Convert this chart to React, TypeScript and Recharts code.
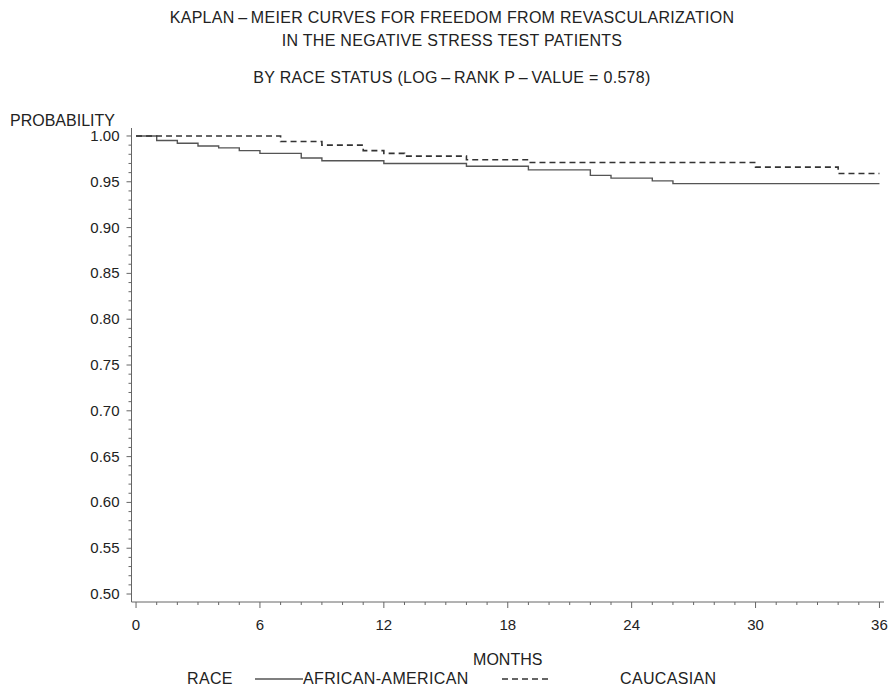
import { LineChart, Line, XAxis, YAxis } from "recharts"

// Kaplan-Meier steps (months, survival)
const aaMonths = [0, 1, 2, 3, 4, 5, 6, 8, 9, 12, 16, 19, 22, 23, 25, 26, 36]
const aaSurv = [1.0, 0.995, 0.992, 0.989, 0.987, 0.984, 0.981, 0.976, 0.973, 0.97, 0.967, 0.963, 0.957, 0.954, 0.951, 0.948, 0.948]

const cauMonths = [0, 7, 9, 11, 12, 13, 16, 19, 30, 34, 36]
const cauSurv = [1.0, 0.994, 0.99, 0.984, 0.981, 0.978, 0.974, 0.971, 0.966, 0.959, 0.959]

const monthTicks = [0, 6, 12, 18, 24, 30, 36]
const probTicks = [0.5, 0.55, 0.6, 0.65, 0.7, 0.75, 0.8, 0.85, 0.9, 0.95, 1.0]

const titleLines = [
  "KAPLAN\u2009\u2013\u2009MEIER CURVES FOR FREEDOM FROM REVASCULARIZATION",
  "IN THE NEGATIVE STRESS TEST PATIENTS",
  "BY RACE STATUS (LOG\u2009\u2013\u2009RANK P\u2009\u2013\u2009VALUE = 0.578)",
]

const aaData = aaMonths.map((t, i) => ({ t, s: aaSurv[i] }))
const cauData = cauMonths.map((t, i) => ({ t, s: cauSurv[i] }))

// minor ticks: every month / every 0.01
const xMinor: number[] = []
for (let m = 0; m <= 36; m++) xMinor.push(m)
const yMinor: number[] = []
for (let k = 50; k <= 100; k++) yMinor.push(k / 100)

const FONT = '"Liberation Sans", Arial, Helvetica, sans-serif'
const INK = "#222"
const AXIS = "#666"

function XTick(props: any) {
  const { x, y, payload } = props
  const major = monthTicks.includes(payload.value)
  return (
    <g>
      <line x1={x} y1={y} x2={x} y2={y + (major ? 6 : 3)} stroke={AXIS} />
      {major && (
        <text x={x} y={y + 28} textAnchor="middle" fontSize={15} fill={INK} fontFamily={FONT}>
          {payload.value}
        </text>
      )}
    </g>
  )
}

function YTick(props: any) {
  const { x, y, payload } = props
  const major = probTicks.some((p) => Math.abs(p - payload.value) < 1e-6)
  return (
    <g>
      <line x1={x - (major ? 5 : 3)} y1={y} x2={x} y2={y} stroke={AXIS} />
      {major && (
        <text x={x - 12} y={y + 5} textAnchor="end" fontSize={15} fill={INK} fontFamily={FONT}>
          {payload.value.toFixed(2)}
        </text>
      )}
    </g>
  )
}

const txt = (top: number, left: number, s: string, extra: any = {}) => (
  <div
    style={{
      position: "absolute",
      top: top - 8,
      left,
      fontSize: 16,
      lineHeight: 1,
      letterSpacing: 0.35,
      whiteSpace: "nowrap",
      color: INK,
      fontFamily: FONT,
      ...extra,
    }}
  >
    {s}
  </div>
)

export default function App() {
  return (
    <div style={{ position: "absolute", left: 0, top: 0, width: 891, height: 689, background: "#fff" }}>
      {titleLines.map((line, i) => (
        <div
          key={i}
          style={{
            position: "absolute",
            top: [17.7, 41, 78.3][i] - 8,
            left: 0,
            width: 904,
            textAlign: "center",
            fontSize: 16,
            lineHeight: 1,
            letterSpacing: 0.3,
            whiteSpace: "nowrap",
            color: INK,
            fontFamily: FONT,
          }}
        >
          {line}
        </div>
      ))}
      {txt(120.5, 10, "PROBABILITY", { letterSpacing: 0 })}

      <LineChart
        width={891}
        height={689}
        margin={{ top: 128, right: 7, bottom: 21, left: 71.5 }}
      >
        <XAxis
          dataKey="t"
          type="number"
          domain={[-0.22, 36.22]}
          allowDataOverflow
          ticks={xMinor}
          interval={0}
          tickSize={0}
          tickMargin={0}
          tickLine={false}
          tick={<XTick />}
          height={66}
          axisLine={{ stroke: AXIS }}
          label={{ value: "MONTHS", position: "insideBottom", offset: 3, fontSize: 16, fill: INK, fontFamily: FONT }}
        />
        <XAxis
          xAxisId="top"
          orientation="top"
          type="number"
          domain={[-0.22, 36.22]}
          allowDataOverflow
          tick={false}
          tickLine={false}
          height={0}
          axisLine={{ stroke: AXIS }}
        />
        <YAxis
          type="number"
          domain={[0.4913, 1.0087]}
          allowDataOverflow
          ticks={yMinor}
          interval={0}
          tickSize={0}
          tickMargin={0}
          tickLine={false}
          tick={<YTick />}
          width={60}
          axisLine={{ stroke: AXIS }}
        />
        <YAxis
          yAxisId="right"
          orientation="right"
          type="number"
          domain={[0.4913, 1.0087]}
          tick={false}
          tickLine={false}
          width={0}
          axisLine={{ stroke: AXIS }}
        />
        <Line
          data={aaData}
          dataKey="s"
          type="stepAfter"
          stroke="#555"
          strokeWidth={1.4}
          dot={false}
          isAnimationActive={false}
        />
        <Line
          data={cauData}
          dataKey="s"
          type="stepAfter"
          stroke="#333"
          strokeWidth={1.6}
          strokeDasharray="6 4"
          dot={false}
          isAnimationActive={false}
        />
      </LineChart>

      {txt(679, 187, "RACE")}
      <svg style={{ position: "absolute", left: 0, top: 0 }} width={891} height={689} pointerEvents="none">
        <line x1={255} y1={679} x2={303} y2={679} stroke="#555" strokeWidth={1.4} />
        <line x1={502} y1={679} x2={550} y2={679} stroke="#333" strokeWidth={1.6} strokeDasharray="6 4" />
      </svg>
      {txt(679, 303, "AFRICAN-AMERICAN")}
      {txt(679, 620, "CAUCASIAN")}
    </div>
  )
}
